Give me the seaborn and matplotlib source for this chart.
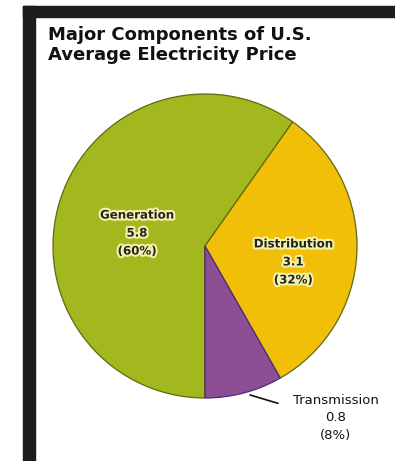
import matplotlib
matplotlib.use("Agg")
import matplotlib.pyplot as plt
import matplotlib.patheffects as pe
from matplotlib.patches import Rectangle
import seaborn as sns

# ---- data ----
categories = ["Generation", "Distribution", "Transmission"]
values = [5.8, 3.1, 0.8]
percents = [60, 32, 8]
colors = ["#A3B81E", "#F2BF08", "#8E4E94"]
title = "Major Components of U.S.\nAverage Electricity Price"

sns.set_theme(style="white")
plt.rcParams["font.family"] = ["DejaVu Sans"]
palette = sns.color_palette(colors)

W, H = 395, 461
fig = plt.figure(figsize=(W / 100, H / 100), dpi=100)
fig.patch.set_facecolor("white")

# black frame bands (top and left)
fig.patches.append(Rectangle((23 / W, 0), 12 / W, 1 - 6 / H, transform=fig.transFigure,
                             color="#1c1c1c", zorder=0))
fig.patches.append(Rectangle((23 / W, 1 - 17 / H), 1, 11 / H, transform=fig.transFigure,
                             color="#1c1c1c", zorder=0))

# pie axes: centre (205,246) px, radius 152 px
cx, cy, r = 205, 246, 152
ax = fig.add_axes([(cx - r) / W, (H - cy - r) / H, 2 * r / W, 2 * r / H])
wedges, _ = ax.pie(values, colors=palette, startangle=270, counterclock=False,
                   wedgeprops=dict(edgecolor="#5E6A12", linewidth=0.9))
wedges[2].set_edgecolor("#4A2A7A")
ax.set_xlim(-1, 1)
ax.set_ylim(-1, 1)
ax.set_aspect("equal")
ax.axis("off")

halo = [pe.withStroke(linewidth=3, foreground="#F4F1A8")]
label_pos = {"Generation": (-0.447, 0.085), "Distribution": (0.58, -0.105)}
for cat, v, p in zip(categories, values, percents):
    txt = f"{cat}\n{v}\n({p}%)"
    if cat in label_pos:
        x, y = label_pos[cat]
        ax.text(x, y, txt, ha="center", va="center", fontsize=8.5, fontweight="bold",
                color="#222222", linespacing=1.5, path_effects=halo)
    else:
        ax.text(0.86, -1.13, txt, ha="center", va="center", fontsize=9.5,
                color="#111111", linespacing=1.45, clip_on=False)
        ax.plot([0.296, 0.48], [-0.98, -1.035], color="#111111", lw=1.2, clip_on=False)

fig.text(48 / W, 1 - 26 / H, title, ha="left", va="top", fontsize=13,
         fontweight="bold", color="#111111", linespacing=1.15)

fig.savefig("out.png", dpi=100)
